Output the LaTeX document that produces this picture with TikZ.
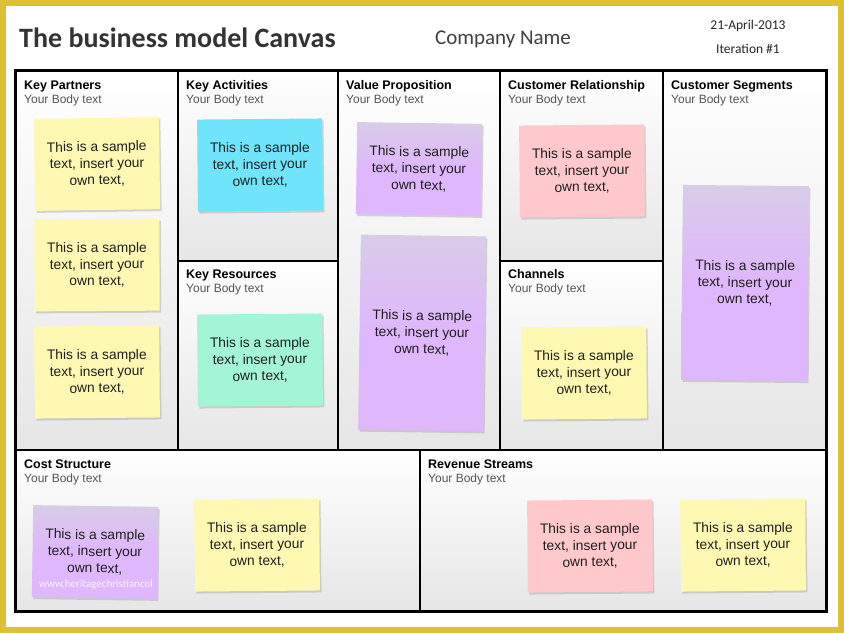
\documentclass[tikz,border=0pt]{standalone}
\usepackage{fontspec}
\setmainfont{Liberation Sans}
\newfontfamily\hdrfont{Carlito}
\usetikzlibrary{shadows}
\definecolor{frameyellow}{HTML}{DCC232}
\definecolor{noteyellow}{HTML}{FFF8B2}
\definecolor{notecyan}{HTML}{6FE4FA}
\definecolor{notemint}{HTML}{A2F6D6}
\definecolor{notepurple}{HTML}{DEB7FC}
\definecolor{notepurpletop}{HTML}{D9CCE8}
\definecolor{notepink}{HTML}{FFC8CB}
\definecolor{bodygray}{HTML}{555555}
\definecolor{cellgray}{HTML}{E6E6E6}
\begin{document}
\begin{tikzpicture}[x=1pt,y=-1pt,
  gridline/.style={line width=2pt,black},
  ttl/.style={anchor=base west,inner sep=0pt,font=\fontsize{12.5}{14}\selectfont\bfseries},
  bdy/.style={anchor=base west,inner sep=0pt,text=bodygray,font=\fontsize{12}{14}\selectfont},
  note/.style={minimum width=125pt,minimum height=92pt,align=center,inner sep=2pt,
    text=black!88,font=\fontsize{13.8}{16.7}\selectfont,
    drop shadow={shadow xshift=1.5pt,shadow yshift=-2pt,opacity=0.3}},
  tallnote/.style={note,minimum height=195pt},
  yel/.style={fill=noteyellow},
  cya/.style={fill=notecyan},
  mnt/.style={fill=notemint},
  pnk/.style={fill=notepink},
  prp/.style={top color=notepurpletop,bottom color=notepurple,middle color=notepurple}
]
\useasboundingbox (0,0) rectangle (844,633);
\fill[white] (0,0) rectangle (844,633);
\draw[frameyellow,line width=6pt] (3,3) rectangle (841,630);

% header
\node[anchor=west,inner sep=0pt,font=\hdrfont\fontsize{28}{32}\selectfont\bfseries,text=black!80] (title) at (19,38) {The business model Canvas};
\node[inner sep=0pt,font=\hdrfont\fontsize{21}{25}\selectfont,text=black!75] (company) at (503,39) {Company Name};
\node[inner sep=0pt,font=\hdrfont\fontsize{13.5}{16}\selectfont,text=black!85] (date) at (748,26) {21-April-2013};
\node[inner sep=0pt,font=\hdrfont\fontsize{13.5}{16}\selectfont,text=black!85] (iter) at (748,49) {Iteration \#1};

% cell backgrounds
\shade[top color=white,bottom color=cellgray] (15,70) rectangle (178,450);
\shade[top color=white,bottom color=cellgray] (178,70) rectangle (338,261);
\shade[top color=white,bottom color=cellgray] (178,261) rectangle (338,450);
\shade[top color=white,bottom color=cellgray] (338,70) rectangle (500,450);
\shade[top color=white,bottom color=cellgray] (500,70) rectangle (663,261);
\shade[top color=white,bottom color=cellgray] (500,261) rectangle (663,450);
\shade[top color=white,bottom color=cellgray] (663,70) rectangle (826,450);
\shade[top color=white,bottom color=cellgray] (15,450) rectangle (420,611);
\shade[top color=white,bottom color=cellgray] (420,450) rectangle (826,611);

% grid
\draw[gridline] (178,70) -- (178,450);
\draw[gridline] (338,70) -- (338,450);
\draw[gridline] (500,70) -- (500,450);
\draw[gridline] (663,70) -- (663,450);
\draw[gridline] (15,450) -- (826,450);
\draw[gridline] (420,450) -- (420,611);
\draw[gridline] (178,261) -- (338,261);
\draw[gridline] (500,261) -- (663,261);
\draw[line width=3pt,black] (15,70) rectangle (826,611);

% labels
\node[ttl] (kpT) at (24,89) {Key Partners};
\node[bdy] (kpB) at (24,103) {Your Body text};
\node[ttl] (kaT) at (186,89) {Key Activities};
\node[bdy] (kaB) at (186,103) {Your Body text};
\node[ttl] (vpT) at (346,89) {Value Proposition};
\node[bdy] (vpB) at (346,103) {Your Body text};
\node[ttl] (crT) at (508,89) {Customer Relationship};
\node[bdy] (crB) at (508,103) {Your Body text};
\node[ttl] (csT) at (671,89) {Customer Segments};
\node[bdy] (csB) at (671,103) {Your Body text};
\node[ttl] (krT) at (186,278) {Key Resources};
\node[bdy] (krB) at (186,292) {Your Body text};
\node[ttl] (chT) at (508,278) {Channels};
\node[bdy] (chB) at (508,292) {Your Body text};
\node[ttl] (coT) at (24,468) {Cost Structure};
\node[bdy] (coB) at (24,482) {Your Body text};
\node[ttl] (rsT) at (428,468) {Revenue Streams};
\node[bdy] (rsB) at (428,482) {Your Body text};

% sticky notes
\node[note,yel,rotate=0.8] (kp1) at (97,164) {This is a sample\\text, insert your\\own text,};
\node[note,yel,rotate=0.3] (kp2) at (97,265) {This is a sample\\text, insert your\\own text,};
\node[note,yel,rotate=0.5] (kp3) at (97,372) {This is a sample\\text, insert your\\own text,};
\node[note,cya,rotate=0.5] (ka) at (260,165) {This is a sample\\text, insert your\\own text,};
\node[note,mnt,rotate=0.5] (kr) at (260,360) {This is a sample\\text, insert your\\own text,};
\node[note,prp,rotate=-0.8] (vp1) at (419,169) {This is a sample\\text, insert your\\own text,};
\node[tallnote,prp,rotate=-0.8] (vp2) at (422,333) {This is a sample\\text, insert your\\own text,};
\node[note,pnk,rotate=0.5] (cr) at (582,171) {This is a sample\\text, insert your\\own text,};
\node[note,yel,rotate=0.5] (ch) at (584,373) {This is a sample\\text, insert your\\own text,};
\node[tallnote,prp,rotate=-0.5,minimum width=126pt] (cs) at (745,283) {This is a sample\\text, insert your\\own text,};
\node[note,prp,rotate=-0.8] (co1) at (95,552) {This is a sample\\text, insert your\\own text,};
\node[note,yel,rotate=0.5] (co2) at (257,545) {This is a sample\\text, insert your\\own text,};
\node[note,pnk,rotate=0.5] (rs1) at (590,546) {This is a sample\\text, insert your\\own text,};
\node[note,yel,rotate=0.5] (rs2) at (743,545) {This is a sample\\text, insert your\\own text,};

% watermark
\node[anchor=west,inner sep=0pt,text=white,opacity=0.85,font=\hdrfont\fontsize{11}{13}\selectfont] (wm) at (39,585) {www.heritagechristiancol};
\end{tikzpicture}
\end{document}
